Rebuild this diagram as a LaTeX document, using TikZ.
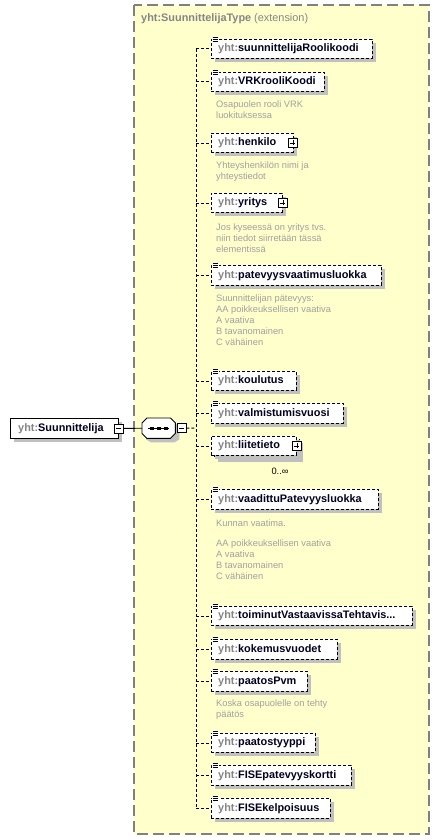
\documentclass[tikz,border=0pt]{standalone}
\usepackage{fontspec}
\setmainfont{Liberation Sans}
\definecolor{bgyellow}{HTML}{FFFFCC}
\definecolor{bordergray}{HTML}{808080}
\definecolor{shadowgray}{HTML}{C0C0C0}
\definecolor{nsgray}{HTML}{858585}
\definecolor{descgray}{HTML}{A0A0A0}
\definecolor{namecol}{HTML}{000020}
\tikzset{
  elbox/.style={draw=black, dash pattern=on 3pt off 2pt, fill=white, line width=0.9pt, inner sep=0pt, anchor=north west},
  solidbox/.style={draw=black, fill=white, line width=0.9pt, inner sep=0pt, anchor=north west},
  conn/.style={draw=black, dash pattern=on 3pt off 2pt, line width=0.9pt},
  solidconn/.style={draw=black, line width=0.9pt},
  lbl/.style={font=\fontsize{10.9}{12}\selectfont\bfseries, text=namecol, anchor=west, inner sep=0pt, text height=8pt, text depth=2.4pt},
  desc/.style={font=\fontsize{9.3}{11.1}\selectfont, text=descgray, anchor=north west, align=left, inner sep=0pt},
  iconbox/.style={draw=black, solid, fill=white, minimum size=9pt, inner sep=0pt, line width=0.8pt},
  minusicon/.style={iconbox, path picture={\draw[line width=0.8pt] ([xshift=2pt]path picture bounding box.west) -- ([xshift=-2pt]path picture bounding box.east);}},
  plusicon/.style={iconbox, path picture={\draw[line width=0.8pt] ([xshift=2pt]path picture bounding box.west) -- ([xshift=-2pt]path picture bounding box.east); \draw[line width=0.8pt] ([yshift=-2pt]path picture bounding box.north) -- ([yshift=2pt]path picture bounding box.south);}},
}
% #1 id, #2 top, #3 bottom, #4 right, #5 name
\newcommand\myelem[5]{%
  \fill[shadowgray] (215,#2+4) rectangle (#4+4,#3+4);
  \node[elbox, minimum width={#4-211}, minimum height={#3-#2}] (#1) at (211,#2) {};
  \node[lbl] (#1-t) at ([xshift=7pt]#1.west) {\textcolor{nsgray}{yht:}#5};
}
\newcommand\mysimple[1]{%
  \fill[white] ([xshift=1pt,yshift=0.6pt]#1.north west) rectangle ([xshift=7.5pt,yshift=-0.6pt]#1.north west);
  \foreach \d in {-1.2,0.8,2.8}
    \draw[solid,black,line width=0.8pt] ([xshift=1.5pt,yshift=-\d pt]#1.north west) -- ++(5.5,0);
}
\begin{document}
\begin{tikzpicture}[x=1pt,y=-1pt]
\useasboundingbox (0,0) rectangle (440,840);
% extension box
\draw[draw=bordergray, fill=bgyellow, dash pattern=on 11pt off 5pt, line width=1.4pt] (134,5) rectangle (429,834);
\node[anchor=west, inner sep=0pt, font=\fontsize{10.9}{12}\selectfont, text=nsgray] (title) at (141,18.5)
  {\textbf{yht:SuunnittelijaType} (extension)};

% root element
\fill[shadowgray] (14,422) rectangle (122,442);
\node[solidbox, minimum width=108, minimum height=20] (root) at (10,418) {};
\node[lbl] (root-t) at ([xshift=8pt]root.west) {\textcolor{nsgray}{yht:}Suunnittelija};
\node[minusicon] (rootminus) at (root.east) {};

% sequence compositor
\node[inner sep=0pt, minimum width=33, minimum height=20, anchor=north west] (seq) at (142,418) {};
\fill[shadowgray] ([shift={(9pt,-4pt)}]seq.north west) -- ([shift={(-1pt,-4pt)}]seq.north east) -- ([shift={(4pt,-9pt)}]seq.north east)
  -- ([shift={(4pt,-1pt)}]seq.south east) -- ([shift={(-1pt,-4pt)}]seq.south east) -- ([shift={(9pt,-4pt)}]seq.south west)
  -- ([shift={(4pt,-1pt)}]seq.south west) -- ([shift={(4pt,-9pt)}]seq.north west) -- cycle;
\draw[solidconn, fill=white] ([xshift=5pt]seq.north west) -- ([xshift=-5pt]seq.north east) -- ([yshift=-5pt]seq.north east)
  -- ([yshift=5pt]seq.south east) -- ([xshift=-5pt]seq.south east) -- ([xshift=5pt]seq.south west)
  -- ([yshift=5pt]seq.south west) -- ([yshift=-5pt]seq.north west) -- cycle;
\draw[line width=0.9pt] ([xshift=6pt]seq.west) -- ([xshift=-6pt]seq.east);
\foreach \dx in {10,17,24}
  \fill[black] ([xshift=\dx pt]seq.west) ++(-1.6,-1.6) rectangle ++(3.2,3.2);
\node[minusicon] (seqminus) at ([xshift=6pt]seq.east) {};
\draw[solidconn] (rootminus.east) -- (seq.west);

% elements
\myelem{e1}{39}{58}{372}{suunnittelijaRoolikoodi}
\mysimple{e1}
\myelem{e2}{72}{91}{324}{VRKrooliKoodi}
\mysimple{e2}
\node[desc] (d2) at (216,100.5) {Osapuolen rooli VRK\\luokituksessa};
\myelem{e3}{133}{152}{293}{henkilo}
\node[plusicon] (e3p) at ([xshift=-1pt]e3.east) {};
\node[desc] (d3) at (216,161.5) {Yhteyshenkilön nimi ja\\yhteystiedot};
\myelem{e4}{193}{212}{282}{yritys}
\node[plusicon] (e4p) at (e4.east) {};
\node[desc] (d4) at (216,223.5) {Jos kyseessä on yritys tvs.\\niin tiedot siirretään tässä\\elementissä};
\myelem{e5}{265}{285}{381}{patevyysvaatimusluokka}
\mysimple{e5}
\node[desc] (d5) at (216,294.5) {Suunnittelijan pätevyys:\\AA poikkeuksellisen vaativa\\A vaativa\\B tavanomainen\\C vähäinen};
\myelem{e6}{371}{390}{296}{koulutus}
\mysimple{e6}
\myelem{e7}{403}{423}{343}{valmistumisvuosi}
\mysimple{e7}
% multiple element liitetieto
\fill[shadowgray] (218,443) rectangle (303,462);
\draw[elbox] (214,439) rectangle (299,458);
\myelem{e8}{436}{455}{296}{liitetieto}
\node[plusicon] (e8p) at (e8.east) {};
\node[inner sep=0pt, font=\fontsize{9.3}{11}\selectfont] (e8m) at (280,471) {0..∞};
\myelem{e9}{489}{509}{378}{vaadittuPatevyysluokka}
\mysimple{e9}
\node[desc] (d9) at (216,519.5) {Kunnan vaatima.\\[8.8pt]AA poikkeuksellisen vaativa\\A vaativa\\B tavanomainen\\C vähäinen};
\myelem{e10}{606}{625}{412}{toiminutVastaavissaTehtavis...}
\mysimple{e10}
\myelem{e11}{639}{659}{337}{kokemusvuodet}
\mysimple{e11}
\myelem{e12}{671}{691}{307}{paatosPvm}
\mysimple{e12}
\node[desc] (d12) at (216,699.5) {Koska osapuolelle on tehty\\päätös};
\myelem{e13}{733}{752}{315}{paatostyyppi}
\mysimple{e13}
\myelem{e14}{765}{785}{351}{FISEpatevyyskortti}
\mysimple{e14}
\myelem{e15}{798}{818}{330}{FISEkelpoisuus}
\mysimple{e15}

% connectors
\coordinate (spine) at (196,428);
\draw[conn] (seqminus.east) -- (spine);
\draw[conn] (spine |- e1.west) -- (spine |- e15.west);
\foreach \e in {e1,e2,e3,e4,e5,e6,e7,e8,e9,e10,e11,e12,e13,e14,e15}
  \draw[conn] (spine |- \e.west) -- (\e.west);
\end{tikzpicture}
\end{document}
